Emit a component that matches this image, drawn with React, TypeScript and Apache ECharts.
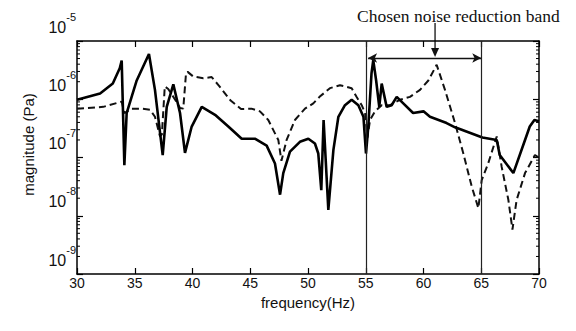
import React, { useEffect, useRef } from "react";
import * as echarts from "echarts";

// Solid curve (frequency in Hz, magnitude in Pa)
const solidFreq = [
  30.0, 32.0, 33.1, 33.7, 33.87, 34.1, 34.3, 34.73, 35.17, 36.23, 36.75, 37.42, 37.77, 38.34,
  38.92, 39.35, 39.93, 40.8, 41.95, 43.1, 44.26, 45.4, 46.42, 47.14, 47.58, 47.86, 48.44, 49.3,
  50.03, 50.6, 50.89, 51.15, 51.35, 51.76, 52.2, 52.63, 53.2, 53.78, 54.36, 54.8, 55.02, 55.22,
  55.5, 55.65, 55.9, 56.17, 56.38, 56.81, 57.24, 57.68, 58.25, 59.1, 60.0, 60.56, 62.0, 62.73,
  65.1, 66.34, 66.6, 67.78, 68.79, 69.2, 69.6, 70.0,
];
const solidMag = [
  9.8e-7, 1.26e-6, 1.86e-6, 3.4e-6, 4.6e-6, 7.4e-8, 5.8e-7, 1.1e-6, 2.1e-6, 6.0e-6, 1.45e-6, 1.1e-7, 7.4e-7, 1.8e-6,
  5.8e-7, 1.2e-7, 3.4e-7, 7.4e-7, 5.4e-7, 3.4e-7, 2.1e-7, 2.1e-7, 1.6e-7, 7.9e-8, 2.3e-8, 5.4e-8, 1.26e-7, 1.86e-7,
  2.1e-7, 1.74e-7, 1.17e-7, 2.75e-8, 4.4e-7, 1.26e-8, 1.35e-7, 5.0e-7, 7.9e-7, 9.8e-7, 7.9e-7, 5.0e-7, 1.17e-7, 3.4e-7,
  2.8e-6, 4.7e-6, 2.1e-6, 7.4e-7, 1.86e-6, 7.4e-7, 7.9e-7, 1.1e-6, 8.5e-7, 5.8e-7, 6.2e-7, 5.0e-7, 3.9e-7, 3.3e-7,
  2.2e-7, 2.0e-7, 1.1e-7, 5.4e-8, 2.0e-7, 3.4e-7, 4.4e-7, 4.2e-7,
];

// Dashed curve (frequency in Hz, magnitude in Pa)
const dashedFreq = [
  30.0, 32.28, 33.87, 34.1, 34.73, 35.6, 36.32, 36.75, 37.19, 37.35, 37.6, 37.9, 38.5, 38.92,
  39.2, 39.44, 39.58, 40.07, 40.94, 41.66, 42.3, 43.3, 44.2, 45.1, 45.84, 46.56, 47.14, 47.43,
  47.7, 48.15, 48.87, 49.74, 50.46, 51.0, 51.9, 52.77, 53.78, 54.2, 54.65, 54.94, 55.15, 55.37,
  55.8, 56.38, 57.1, 57.97, 58.83, 59.7, 60.42, 60.6, 61.14, 61.86, 62.73, 63.45, 64.17, 64.75,
  65.04, 65.6, 66.34, 66.77, 67.35, 67.7, 68.06, 68.79, 69.65, 70.0,
];
const dashedMag = [
  6.9e-7, 7.4e-7, 9.1e-7, 5.8e-7, 6.9e-7, 6.9e-7, 6.6e-7, 5.0e-7, 2.3e-7, 2.5e-7, 1.66e-6, 1.5e-6, 9.8e-7, 7.1e-7,
  6.9e-7, 2.8e-6, 2.95e-6, 2.45e-6, 2.3e-6, 2.4e-6, 1.7e-6, 9.5e-7, 6.8e-7, 6.9e-7, 6.2e-7, 4.4e-7, 2.6e-7, 2.0e-7,
  8.8e-8, 2.0e-7, 4.4e-7, 6.9e-7, 8.5e-7, 1.1e-6, 1.55e-6, 1.74e-6, 1.55e-6, 1.1e-6, 7.9e-7, 5.8e-7, 2.2e-7, 4.4e-7,
  6.2e-7, 7.9e-7, 7.9e-7, 9.8e-7, 1.1e-6, 1.45e-6, 2.1e-6, 2.45e-6, 3.9e-6, 1.45e-6, 3.9e-7, 1.17e-7, 3.2e-8, 1.35e-8,
  4.1e-8, 7.9e-8, 2.3e-7, 6.9e-8, 1.86e-8, 5.8e-9, 1.86e-8, 5.4e-8, 1.1e-7, 1.0e-7,
];

// Axes
const xMin = 30;
const xMax = 70;
const xInterval = 5;
const yMin = 1e-9;
const yMax = 1e-5;
const yDecades = [-9, -8, -7, -6];
const minorMultipliers = [2, 3, 4, 5, 6, 7, 8, 9];

// Annotation
const bandEdges = [55, 65];
const bandArrowStart = 55.2;
const bandArrowLevel = 5.1e-6;
const bandPointerFreq = 61;
const annotationText = "Chosen noise reduction band";

const minorTickValues: number[] = [];
yDecades.forEach((d) => minorMultipliers.forEach((m) => minorTickValues.push(m * Math.pow(10, d))));

const solidData = solidFreq.map((f, i) => [f, solidMag[i]]);
const dashedData = dashedFreq.map((f, i) => [f, dashedMag[i]]);

const SANS = "Liberation Sans, Arial, sans-serif";
const SERIF = "Liberation Serif, Times New Roman, serif";

export default function App() {
  const ref = useRef<HTMLDivElement>(null);
  useEffect(() => {
    if (!ref.current) return;
    const chart = echarts.init(ref.current, undefined, { renderer: "svg" });
    const option: any = {
      animation: false,
      backgroundColor: "#ffffff",
      title: {
        text: annotationText,
        left: 352,
        top: 2,
        textStyle: { fontFamily: SERIF, fontSize: 17.5, fontWeight: "normal", color: "#111" },
      },
      grid: { left: 77, right: 37, top: 41, bottom: 57 },
      xAxis: [
        {
          type: "value",
          min: xMin,
          max: xMax,
          interval: xInterval,
          name: "frequency(Hz)",
          nameLocation: "middle",
          nameGap: 17,
          nameTextStyle: { fontFamily: SANS, fontSize: 15, color: "#111" },
          axisLine: { show: true, lineStyle: { color: "#000", width: 1.5 } },
          axisTick: { show: true, inside: true, length: 6, lineStyle: { color: "#000", width: 1.2 } },
          axisLabel: { fontFamily: SANS, fontSize: 14, color: "#111", margin: 2 },
          splitLine: { show: false },
        },
        {
          type: "value",
          position: "top",
          min: xMin,
          max: xMax,
          interval: xInterval,
          axisLine: { show: true, lineStyle: { color: "#000", width: 1.5 } },
          axisTick: { show: true, inside: true, length: 6, lineStyle: { color: "#000", width: 1.2 } },
          axisLabel: { show: false },
          splitLine: { show: false },
        },
      ],
      yAxis: [
        {
          type: "log",
          logBase: 10,
          min: yMin,
          max: yMax,
          name: "magnitude (Pa)",
          nameLocation: "middle",
          nameGap: 41,
          nameTextStyle: { fontFamily: SANS, fontSize: 15, color: "#111", padding: [0, 0, 0, 26] },
          axisLine: { show: true, lineStyle: { color: "#000", width: 1.5 } },
          axisTick: { show: true, inside: true, length: 6, lineStyle: { color: "#000", width: 1.2 } },
          axisLabel: {
            margin: 1,
            verticalAlign: "bottom",
            formatter: (v: number) => `{b|10}{s|${Math.round(Math.log10(v))}}`,
            rich: {
              b: { fontFamily: SANS, fontSize: 16, lineHeight: 16, color: "#111", padding: [0, 0, 6, 0], verticalAlign: "bottom" },
              s: { fontFamily: SANS, fontSize: 11, lineHeight: 11, color: "#111", padding: [0, 0, 19, 0], verticalAlign: "bottom" },
            },
          },
          splitLine: { show: false },
        },
        {
          type: "log",
          logBase: 10,
          position: "right",
          min: yMin,
          max: yMax,
          axisLine: { show: true, lineStyle: { color: "#000", width: 1.5 } },
          axisTick: { show: true, inside: true, length: 6, lineStyle: { color: "#000", width: 1.2 } },
          axisLabel: { show: false },
          splitLine: { show: false },
        },
      ],
      series: [
        {
          type: "custom",
          name: "minor ticks",
          silent: true,
          xAxisIndex: 0,
          yAxisIndex: 0,
          data: minorTickValues.map((v) => [xMin, v]),
          encode: { x: 0, y: 1 },
          renderItem: (params: any, api: any) => {
            const v = api.value(1);
            const pl = api.coord([xMin, v]);
            const pr = api.coord([xMax, v]);
            return {
              type: "group",
              children: [
                { type: "line", shape: { x1: pl[0], y1: pl[1], x2: pl[0] + 3, y2: pl[1] }, style: { stroke: "#000", lineWidth: 1 } },
                { type: "line", shape: { x1: pr[0], y1: pr[1], x2: pr[0] - 3, y2: pr[1] }, style: { stroke: "#000", lineWidth: 1 } },
              ],
            };
          },
        },
        {
          type: "line",
          name: "dashed",
          data: dashedData,
          showSymbol: false,
          symbol: "none",
          lineStyle: { color: "#111", width: 2, type: [7, 4] },
          markLine: {
            silent: true,
            symbol: ["none", "none"],
            label: { show: false },
            lineStyle: { color: "#222", width: 1.2, type: "solid" },
            data: bandEdges.map((e) => ({ xAxis: e })),
          },
        },
        {
          type: "line",
          name: "solid",
          data: solidData,
          showSymbol: false,
          symbol: "none",
          lineStyle: { color: "#000", width: 2.6 },
          markLine: {
            silent: true,
            symbol: ["arrow", "arrow"],
            symbolSize: [7, 9],
            label: { show: false },
            lineStyle: { color: "#111", width: 1.3, type: "solid" },
            data: [[{ coord: [bandArrowStart, bandArrowLevel] }, { coord: [bandEdges[1], bandArrowLevel] }]],
          },
        },
      ],
    };
    chart.setOption(option);
    const tip = chart.convertToPixel({ xAxisIndex: 0, yAxisIndex: 0 }, [bandPointerFreq, bandArrowLevel]) as number[];
    if (tip) {
      const px = tip[0];
      const py = tip[1];
      chart.setOption({
        graphic: [
          { type: "line", shape: { x1: px, y1: 23, x2: px, y2: py - 8 }, style: { stroke: "#111", lineWidth: 1.3 } },
          {
            type: "polygon",
            shape: { points: [[px - 4, py - 10], [px + 4, py - 10], [px, py - 1]] },
            style: { fill: "#111" },
          },
        ],
      });
    }
    return () => chart.dispose();
  }, []);
  return <div ref={ref} style={{ width: 576, height: 331, margin: -8 }} />;
}
